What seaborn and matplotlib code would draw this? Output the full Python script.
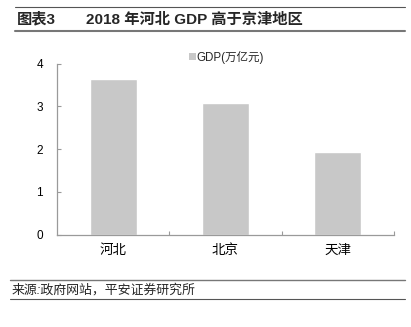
import matplotlib
matplotlib.use("Agg")
import matplotlib.pyplot as plt
import seaborn as sns
import pandas as pd
from matplotlib.lines import Line2D
from matplotlib.patches import Patch

categories = ["河北", "北京", "天津"]
gdp_values = [3.64, 3.08, 1.93]
series_name = "GDP(万亿元)"
y_ticks = [0, 1, 2, 3, 4]
title_left = "图表3"
title_main = "2018 年河北 GDP 高于京津地区"
source_text = "来源:政府网站，平安证券研究所"

sns.set_theme(style="white")
plt.rcParams['font.family'] = ['Liberation Sans', 'Noto Sans CJK SC', 'DejaVu Sans']

W, H = 411, 327
fig = plt.figure(figsize=(W / 100, H / 100), dpi=100)
fig.patch.set_facecolor("white")

def fx(px):
    return px / W

def fy(py):
    return 1 - py / H

ax = fig.add_axes([fx(57), fy(234.5), fx(394) - fx(57), fy(63.5) - fy(234.5)])
df = pd.DataFrame({"region": categories, "gdp": gdp_values})
sns.barplot(data=df, x="region", y="gdp", color="#c8c8c8", saturation=1,
            width=0.42, ax=ax, label=series_name)

ax.set_xlim(-0.5, 2.5)
ax.set_ylim(0, 4)
ax.set_yticks(y_ticks)
ax.set_xlabel("")
ax.set_ylabel("")
for s in ["top", "right"]:
    ax.spines[s].set_visible(False)
for s in ["left", "bottom"]:
    ax.spines[s].set_color("#9a9a9a")
    ax.spines[s].set_linewidth(0.9)
ax.tick_params(axis="y", direction="in", length=3, color="#9a9a9a", width=0.8,
               labelsize=8.5, pad=10, left=True, labelcolor="#000000")
ax.tick_params(axis="x", which="major", length=0, labelsize=9.7, pad=7, labelcolor="#000000")
ax.set_xticks([0.5, 1.5, 2.5], minor=True)
ax.tick_params(axis="x", which="minor", direction="in", length=3, color="#9a9a9a", width=0.8, bottom=True)
ax.grid(False)
if ax.get_legend() is not None:
    ax.get_legend().remove()

handle = Patch(facecolor="#c8c8c8", edgecolor="none")
fig.legend([handle], [series_name], loc="center left",
           bbox_to_anchor=(fx(184), fy(57)), frameon=False, fontsize=8.3,
           handlelength=0.6, handleheight=0.6, handletextpad=0.1, borderaxespad=0)

# header lines and title
fig.add_artist(Line2D([fx(15), fx(405)], [fy(7), fy(7)], color="#555555", lw=0.8))
fig.add_artist(Line2D([fx(15), fx(405)], [fy(31), fy(31)], color="#777777", lw=1.5))
fig.text(fx(17), fy(19.5), title_left, fontsize=11, fontweight="bold", va="center", ha="left")
fig.text(fx(86), fy(19.5), title_main, fontsize=11, fontweight="bold", va="center", ha="left")

# footer
fig.add_artist(Line2D([fx(10), fx(405)], [fy(280), fy(280)], color="#777777", lw=1.0))
fig.add_artist(Line2D([fx(10), fx(405)], [fy(299), fy(299)], color="#555555", lw=0.8))
fig.text(fx(12), fy(290), source_text, fontsize=9.3, style="italic", va="center", ha="left")

fig.savefig("out.png", dpi=100, facecolor="white")
